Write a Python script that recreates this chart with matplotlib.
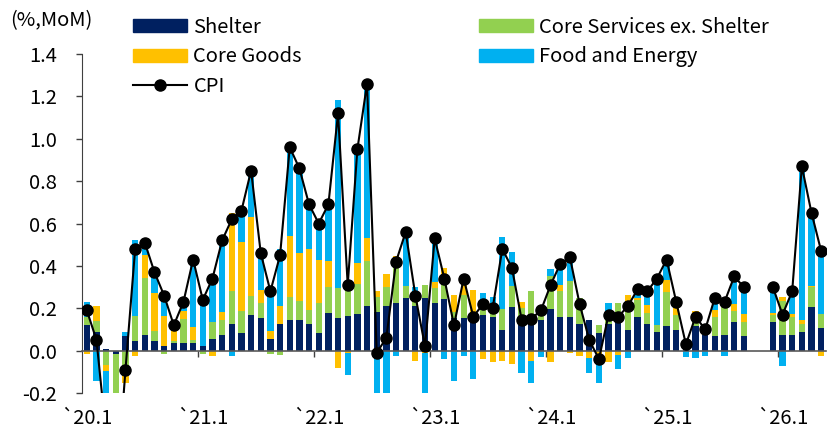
import numpy as np
import pandas as pd
import matplotlib.pyplot as plt
from matplotlib.patches import Patch
from matplotlib.lines import Line2D

plt.rcParams['font.family'] = ['Noto Sans CJK KR', 'DejaVu Sans']

nan = np.nan
# monthly contributions to US CPI (%p, MoM), 2020.1 ~ 2026.5 (2025.10-11 not published)
months = pd.date_range('2020-01-01', periods=77, freq='MS')

shelter = [0.12, 0.09, 0.01, -0.014, 0.07, 0.044, 0.075, 0.044, 0.024, 0.036, 0.035, 0.036,
           0.024, 0.054, 0.074, 0.125, 0.085, 0.166, 0.156, 0.055, 0.124, 0.145, 0.145, 0.124,
           0.085, 0.176, 0.156, 0.165, 0.173, 0.212, 0.184, 0.212, 0.225, 0.248, 0.212, 0.248,
           0.225, 0.245, 0.154, 0.154, 0.178, 0.17, 0.157, 0.096, 0.206, 0.154, 0.146, 0.146,
           0.197, 0.157, 0.157, 0.126, 0.146, 0.083, 0.126, 0.146, 0.096, 0.157, 0.126, 0.086,
           0.118, 0.096, 0.05, 0.118, 0.075, 0.068, 0.075, 0.135, 0.068, nan, nan, 0.135,
           0.075, 0.075, 0.086, 0.204, 0.107]
core_services = [0.04, 0.05, -0.066, -0.25, -0.10, 0.12, 0.27, 0.05, -0.015, 0.01, 0.112, 0.015,
                 -0.015, 0.08, 0.072, 0.158, 0.10, 0.09, 0.068, -0.014, -0.022, 0.11, 0.09, 0.07,
                 0.138, 0.126, 0.138, 0.14, 0.14, 0.21, 0.07, 0.09, 0.20, 0.055, 0.04, 0.063,
                 0.07, 0.09, 0.03, 0.11, 0.0, 0.024, 0.05, 0.10, 0.10, 0.047, 0.137, 0.047,
                 0.157, 0.126, 0.17, 0.123, 0.0, 0.04, 0.02, 0.08, 0.137, 0.083, 0.052, 0.036,
                 0.157, 0.074, 0.0, 0.03, 0.05, 0.09, 0.157, 0.05, 0.068, nan, nan, 0.035,
                 0.157, 0.082, 0.04, 0.096, 0.066]
core_goods = [-0.015, 0.07, -0.03, -0.10, -0.055, -0.024, 0.105, 0.18, 0.14, 0.045, 0.038, 0.06,
              0.0, -0.024, 0.038, 0.366, 0.33, 0.377, 0.06, 0.038, 0.088, 0.288, 0.228, 0.285,
              0.207, 0.123, -0.08, -0.01, 0.10, 0.11, 0.028, 0.058, 0.02, 0.0, -0.05, -0.01,
              0.028, 0.055, 0.08, 0.07, 0.107, -0.04, -0.055, -0.05, -0.063, 0.03, -0.05, 0.0,
              -0.055, 0.028, -0.01, -0.024, -0.035, -0.035, -0.055, -0.02, 0.03, 0.008, 0.036, 0.0,
              0.06, 0.03, 0.0, 0.04, 0.0, 0.036, 0.0, 0.036, 0.038, nan, nan, 0.008,
              0.02, 0.016, 0.02, 0.006, -0.024]
food_energy = [0.07, -0.145, -0.32, -0.35, 0.02, 0.36, 0.06, 0.08, 0.095, 0.03, 0.035, 0.32,
               0.22, 0.21, 0.33, -0.025, 0.134, 0.218, 0.18, 0.19, 0.266, 0.42, 0.40, 0.19,
               0.173, 0.24, 0.89, -0.105, 0.55, 0.735, -0.29, -0.30, -0.025, 0.26, 0.05, -0.28,
               0.19, -0.04, -0.145, -0.027, -0.134, 0.08, 0.045, 0.34, 0.16, -0.105, -0.105, -0.03,
               0.03, 0.11, 0.11, 0.0, -0.07, -0.118, 0.08, -0.068, -0.035, 0.024, 0.042, 0.197,
               0.086, 0.0, -0.03, -0.035, -0.027, 0.04, -0.024, 0.13, 0.123, nan, nan, 0.126,
               -0.074, 0.10, 0.716, 0.343, 0.31]
cpi = [0.19, 0.05, -0.40, -0.70, -0.09, 0.48, 0.51, 0.37, 0.26, 0.12, 0.23, 0.43,
       0.24, 0.34, 0.52, 0.62, 0.66, 0.85, 0.46, 0.28, 0.45, 0.96, 0.86, 0.69,
       0.60, 0.69, 1.12, 0.31, 0.95, 1.26, -0.01, 0.06, 0.42, 0.56, 0.26, 0.02,
       0.53, 0.34, 0.12, 0.34, 0.16, 0.22, 0.20, 0.48, 0.39, 0.146, 0.15, 0.19,
       0.31, 0.41, 0.44, 0.22, 0.05, -0.04, 0.17, 0.16, 0.21, 0.29, 0.28, 0.34,
       0.43, 0.23, 0.03, 0.16, 0.10, 0.25, 0.23, 0.35, 0.30, nan, nan, 0.30,
       0.17, 0.28, 0.87, 0.65, 0.47]

series = [
    (shelter, '#002060', 'Shelter'),
    (core_services, '#92D050', 'Core Services ex. Shelter'),
    (core_goods, '#FFC000', 'Core Goods'),
    (food_energy, '#00B0F0', 'Food and Energy'),
]

x = np.arange(len(months))
fig = plt.figure(figsize=(8.33, 4.32), dpi=100)
ax = fig.add_axes([82 / 833, 39 / 432, 744 / 833, 339 / 432])

# stacked bars, positives up and negatives down separately (like excel)
pos = np.zeros(len(x))
neg = np.zeros(len(x))
for vals, color, label in series:
    v = np.array(vals, dtype=float)
    v0 = np.nan_to_num(v)
    bottom = np.where(v0 >= 0, pos, neg)
    ax.bar(x, v, bottom=bottom, width=0.65, color=color, label=label, zorder=1)
    pos += np.clip(v0, 0, None)
    neg += np.clip(v0, None, 0)

ax.plot(x, cpi, color='black', lw=1.5, marker='o', ms=8, zorder=5)

ax.set_xlim(-0.5, len(x) - 0.5)
ax.set_ylim(-0.2, 1.4)
yt = np.arange(-0.2, 1.41, 0.2)
ax.set_yticks(yt)
ax.set_yticklabels(['%.1f' % v for v in yt])
ax.tick_params(axis='y', direction='out', length=4, width=1, color='#404040', pad=14, labelsize=14.5)

for s in ['top', 'right']:
    ax.spines[s].set_visible(False)
ax.spines['left'].set_color('#404040')
ax.spines['bottom'].set_position(('data', 0))
ax.spines['bottom'].set_color('#595959')
ax.spines['bottom'].set_linewidth(1.2)
ax.spines['bottom'].set_zorder(3)

# year boundaries as ticks on the zero line, labels at each january below the plot
jan = np.where(months.month == 1)[0]
ax.set_xticks(jan[1:] - 0.5)
ax.set_xticklabels([])
ax.tick_params(axis='x', direction='out', length=4, width=1, color='#404040')

sec = ax.secondary_xaxis('bottom')
sec.spines['bottom'].set_visible(False)
sec.set_xticks(jan)
sec.set_xticklabels(["`%02d.1" % (months[i].year % 100) for i in jan])
sec.tick_params(length=0, pad=11, labelsize=14.5)

fig.text(10 / 833, 1 - 21 / 432, '(%,MoM)', fontsize=14.5, va='center', ha='left')

h1 = [Patch(color='#002060'), Patch(color='#FFC000'),
      Line2D([], [], color='black', lw=1.5, marker='o', ms=8)]
h2 = [Patch(color='#92D050'), Patch(color='#00B0F0')]
kw = dict(loc='upper left', frameon=False, borderpad=0, borderaxespad=0, handlelength=2.7,
          handleheight=0.62, handletextpad=0.3, labelspacing=0.42, fontsize=14.5)
leg1 = fig.legend(h1, ['Shelter', 'Core Goods', 'CPI'], bbox_to_anchor=(133 / 833, 1 - 17 / 432), **kw)
fig.legend(h2, ['Core Services ex. Shelter', 'Food and Energy'], bbox_to_anchor=(479 / 833, 1 - 17 / 432), **kw)

plt.savefig('out.png', dpi=100)
